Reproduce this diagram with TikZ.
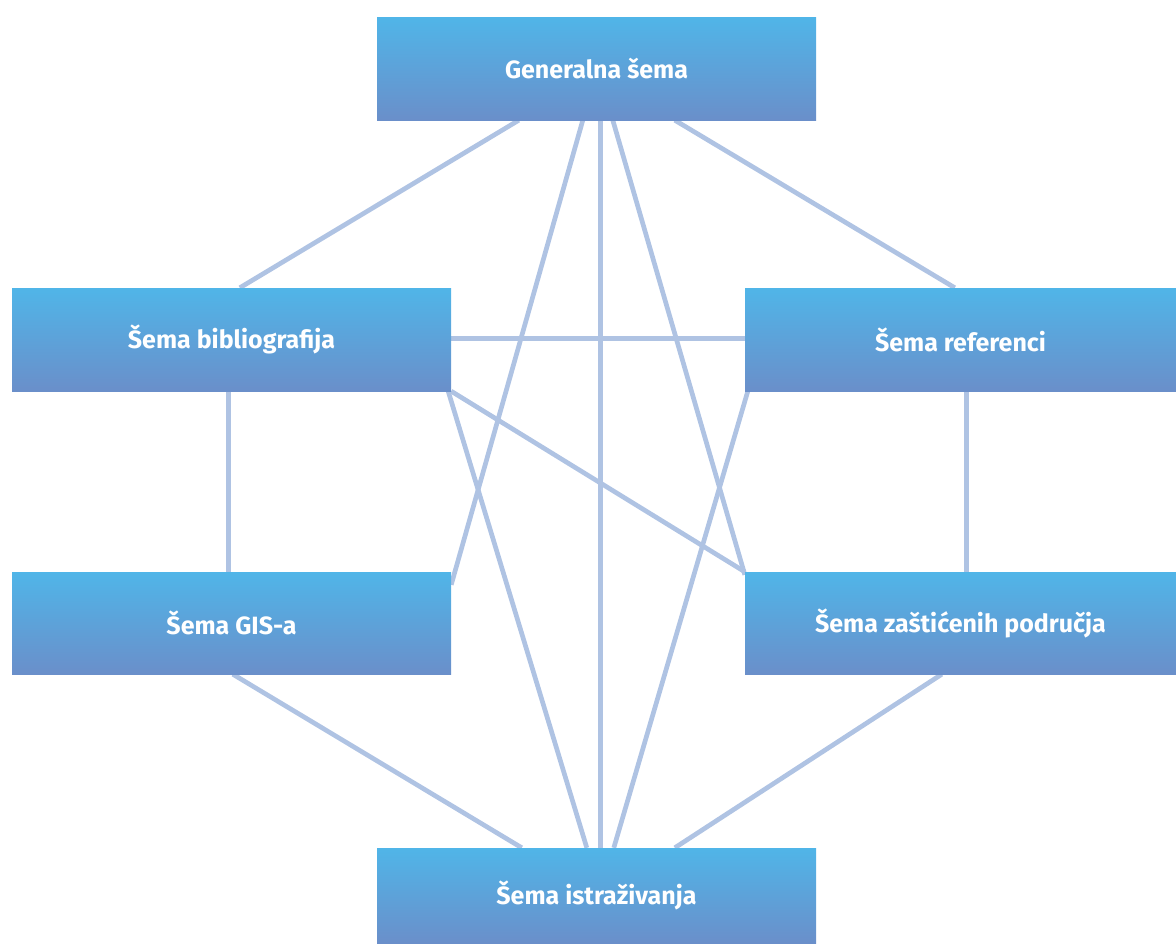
\documentclass[tikz,border=0pt]{standalone}
\usepackage{fontspec}
\setmainfont{Fira Sans}
\usetikzlibrary{backgrounds}
\definecolor{linkc}{HTML}{AFC3E3}
\definecolor{boxtop}{HTML}{50B5E8}
\definecolor{boxbot}{HTML}{6A8FCA}
\tikzset{
  sbox/.style={rectangle, inner sep=0pt, top color=boxtop, bottom color=boxbot,
    text=white, font=\fontsize{25}{30}\selectfont\bfseries, anchor=center},
  link/.style={draw=linkc, line width=4.7pt}
}
\begin{document}
\begin{tikzpicture}[x=1pt,y=-1pt]
\useasboundingbox (0,0) rectangle (1176,943);
\node[sbox, minimum width=439pt, minimum height=103pt] (G) at (596.5,68.5) {Generalna šema};
\node[sbox, minimum width=439pt, minimum height=103pt] (B) at (231.5,339.5) {Šema bibliografija};
\node[sbox, minimum width=431pt, minimum height=103pt] (R) at (960.5,339.5) {Šema referenci};
\node[sbox, minimum width=439pt, minimum height=102pt] (S) at (231.5,623) {Šema GIS-a};
\node[sbox, minimum width=431pt, minimum height=102pt] (Z) at (960.5,623) {Šema zaštićenih područja};
\node[sbox, minimum width=439pt, minimum height=95pt] (I) at (596.5,895.5) {Šema istraživanja};
\begin{scope}[on background layer]
\draw[link] ([xshift=142pt]G.south west) -- ([xshift=228pt]B.north west);
\draw[link] ([xshift=298pt]G.south west) -- ([xshift=210pt]R.north west);
\draw[link] ([xshift=206pt]G.south west) -- ([yshift=-13pt]S.north east);
\draw[link] ([xshift=224pt]G.south west) -- ([xshift=224pt]I.north west);
\draw[link] ([xshift=236pt]G.south west) -- ([yshift=-3pt]Z.north west);
\draw[link] ([yshift=-51pt]B.north east) -- ([yshift=-51pt]R.north west);
\draw[link] ([xshift=217pt]B.south west) -- ([xshift=217pt]S.north west);
\draw[link] ([xshift=222pt]R.south west) -- ([xshift=222pt]Z.north west);
\draw[link] (B.south east) -- (Z.north west);
\draw[link] ([xshift=-3pt]B.south east) -- ([xshift=210pt]I.north west);
\draw[link] ([xshift=3pt]R.south west) -- ([xshift=237pt]I.north west);
\draw[link] ([xshift=221pt]S.south west) -- ([xshift=145pt]I.north west);
\draw[link] ([xshift=197pt]Z.south west) -- ([xshift=298pt]I.north west);
\end{scope}
\end{tikzpicture}
\end{document}
